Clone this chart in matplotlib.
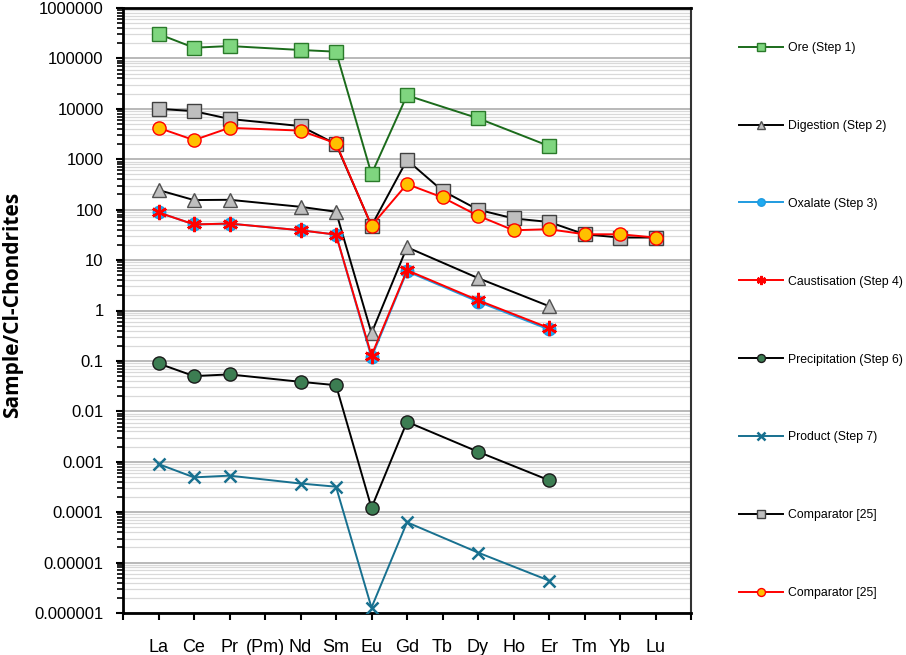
import numpy as np
import matplotlib
matplotlib.use('Agg')
import matplotlib.pyplot as plt
from matplotlib.lines import Line2D

# REE 球粒陨石标准化配分图
elements = ['La', 'Ce', 'Pr', '(Pm)', 'Nd', 'Sm', 'Eu', 'Gd', 'Tb', 'Dy', 'Ho', 'Er', 'Tm', 'Yb', 'Lu']
nan = np.nan

ore = [305000, 163000, 176000, nan, 147000, 136000, 508, 18500, nan, 6500, nan, 1830, nan, nan, nan]
digestion = [245, 155, 157, nan, 114, 91, 0.356, 18, nan, 4.4, nan, 1.22, nan, nan, nan]
oxalate = [88, 51, 53, nan, 39, 32, 0.117, 6.0, nan, 1.5, nan, 0.42, nan, nan, nan]
caustisation = [88, 51, 53, nan, 39, 32, 0.128, 6.3, nan, 1.6, nan, 0.45, nan, nan, nan]
precipitation = [0.089, 0.05, 0.054, nan, 0.0385, 0.033, 0.000122, 0.0062, nan, 0.00158, nan, 0.00043, nan, nan, nan]
product = [0.0009, 0.00049, 0.00053, nan, 0.00037, 0.00032, 1.28e-6, 6.3e-5, nan, 1.58e-5, nan, 4.4e-6, nan, nan, nan]
comp_gray = [10000, 9000, 6300, nan, 4550, 2000, 48, 965, 237, 100, 67, 57, 32.5, 28, 28]
comp_orange = [4200, 2400, 4200, nan, 3700, 2070, 48, 322, 175, 76, 39, 41, 32.5, 32.5, 28]

plt.rcParams['font.family'] = ['Liberation Sans', 'DejaVu Sans']

series = [
    ('Ore (Step 1)', ore, dict(color='#1b6b1b', marker='s', ms=9.5, mfc='#7fd67f', mec='#2a7a2a')),
    ('Digestion (Step 2)', digestion, dict(color='black', marker='^', ms=10, mfc='#bfbfbf', mec='#505050')),
    ('Oxalate (Step 3)', oxalate, dict(color='#1f9be0', marker='o', ms=9, mfc='#1eaaf1', mec='#1f9be0')),
    ('Caustisation (Step 4)', caustisation, dict(color='red', marker=(6, 2, 0), ms=11, mfc='red', mec='red', mew=1.8)),
    ('Precipitation (Step 6)', precipitation, dict(color='black', marker='o', ms=9.5, mfc='#3c7d52', mec='#1a1a1a')),
    ('Product (Step 7)', product, dict(color='#17708f', marker='x', ms=9, mfc='#17708f', mec='#17708f', mew=1.8)),
    ('Comparator [25]', comp_gray, dict(color='black', marker='s', ms=9.5, mfc='#bfbfbf', mec='#404040')),
    ('Comparator [25]', comp_orange, dict(color='red', marker='o', ms=9.5, mfc='#ffc000', mec='red')),
]

fig = plt.figure(figsize=(9.06, 6.55), dpi=100)
ax = fig.add_axes([123 / 906, 1 - 613 / 655, (691 - 123) / 906, (613 - 8) / 655])

x = np.arange(1, len(elements) + 1)
handles = []
for label, vals, st in series:
    v = np.array(vals, dtype=float)
    m = ~np.isnan(v)
    ax.plot(x[m], v[m], lw=1.4, zorder=3, **st)
    hs = dict(st)
    hs['ms'] = st['ms'] * 0.6
    handles.append(Line2D([], [], lw=1.4, label=label, **hs))

ax.set_yscale('log')
ax.set_ylim(1e-6, 1e6)
ax.set_xlim(0, 16)
decades = [10.0 ** k for k in range(-6, 7)]
ylabels = ['0.000001', '0.00001', '0.0001', '0.001', '0.01', '0.1', '1', '10', '100',
           '1000', '10000', '100000', '1000000']
ax.set_yticks(decades)
ax.set_yticklabels(ylabels, fontsize=12)
minors = [m * 10.0 ** k for k in range(-6, 6) for m in range(2, 10)]
ax.set_yticks(minors, minor=True)
ax.yaxis.set_minor_formatter(plt.NullFormatter())
ax.grid(True, which='major', axis='y', color='#a6a6a6', lw=1.1, zorder=0)
ax.grid(True, which='minor', axis='y', color='#d9d9d9', lw=0.9, zorder=0)

ax.set_xticks(np.arange(0, 17))
ax.set_xticklabels([''] + elements + [''], fontsize=13)
ax.tick_params(axis='x', direction='out', length=5, width=1.5, pad=14)
ax.tick_params(axis='y', which='major', direction='out', length=5, width=1.5, pad=9)
ax.tick_params(axis='y', which='minor', direction='out', length=4, width=1.2)

for s in ['left', 'bottom', 'top']:
    ax.spines[s].set_linewidth(2)
    ax.spines[s].set_color('black')
ax.spines['right'].set_linewidth(1.5)
ax.spines['right'].set_color('#333333')

fig.text(13 / 906, 1 - 305 / 655, 'Sample/Cl-Chondrites', rotation=90, ha='center', va='center',
         fontsize=15, fontweight='bold', family=['Open Sans', 'DejaVu Sans'])

fig.legend(handles=handles, loc='upper left', bbox_to_anchor=(728 / 906, 1 - 31 / 655),
           frameon=False, fontsize=8.8, handlelength=3.6, handletextpad=0.45, labelspacing=5.39)

fig.savefig('out.png', dpi=100)
